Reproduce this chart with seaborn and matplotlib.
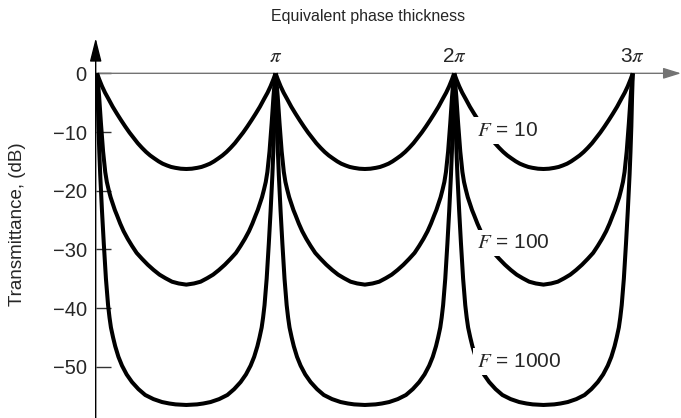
import numpy as np
import pandas as pd
import matplotlib
matplotlib.use("Agg")
import matplotlib.pyplot as plt
import seaborn as sns

# Half of one transmission arch (phase in units of pi, 0 -> pi/2), per finesse value
f10_phase = [0, 0.012, 0.028, 0.045, 0.065, 0.088, 0.112, 0.135, 0.159, 0.182, 0.205,
             0.228, 0.252, 0.275, 0.298, 0.321, 0.345, 0.368, 0.392, 0.415, 0.438,
             0.469, 0.5]
f10_db = [0, -1.0, -2.2, -3.3, -4.4, -5.7, -6.9, -8.0, -9.1, -10.1, -11.0,
          -11.9, -12.7, -13.4, -14.0, -14.5, -15.0, -15.4, -15.7, -15.95, -16.1,
          -16.25, -16.3]

f100_phase = [0, 0.006, 0.012, 0.022, 0.034, 0.046, 0.055, 0.065, 0.076, 0.088, 0.100,
              0.112, 0.130, 0.149, 0.172, 0.196, 0.222, 0.252, 0.284, 0.317, 0.350,
              0.383, 0.420, 0.457, 0.5]
f100_db = [0, -1.8, -4.0, -8.5, -13.3, -16.8, -18.5, -19.8, -21.1, -22.2, -23.3,
           -24.2, -25.6, -26.9, -28.2, -29.4, -30.6, -31.6, -32.6, -33.5, -34.3,
           -34.9, -35.5, -35.8, -36.0]

f1000_phase = [0, 0.002, 0.004, 0.008, 0.013, 0.018, 0.028, 0.038, 0.050, 0.062, 0.070,
               0.078, 0.090, 0.102, 0.120, 0.140, 0.166, 0.196, 0.232, 0.270, 0.316,
               0.364, 0.405, 0.440, 0.470, 0.5]
f1000_db = [0, -2.0, -4.0, -9.0, -13.5, -17.3, -23.5, -29.0, -35.0, -39.5, -41.6,
            -43.3, -45.0, -46.5, -48.3, -49.8, -51.3, -52.6, -53.8, -54.8, -55.5,
            -56.0, -56.25, -56.4, -56.45, -56.5]

finesse_labels = [r"$F$ = 10", r"$F$ = 100", r"$F$ = 1000"]
label_y = [-9.7, -28.9, -49.1]
periods = [0, 1, 2]

x_ticks = [1, 2, 3]
x_tick_labels = [r"$\pi$", r"2$\pi$", r"3$\pi$"]
y_ticks = [0, -10, -20, -30, -40, -50]

sns.set_theme(style="white")
plt.rcParams["font.family"] = ["Liberation Sans", "DejaVu Sans"]
plt.rcParams["mathtext.fontset"] = "stix"

# Build a long table: each arch (one period) is a separate line segment
rows = []
curves = [(f10_phase, f10_db), (f100_phase, f100_db), (f1000_phase, f1000_db)]
for ci, (ph, db) in enumerate(curves):
    ph = np.asarray(ph, float)
    db = np.asarray(db, float)
    arch_x = np.concatenate([ph, 1.0 - ph[::-1][1:]])
    arch_y = np.concatenate([db, db[::-1][1:]])
    for p in periods:
        for xv, yv in zip(arch_x + p, arch_y):
            rows.append({"phase": xv, "dB": yv, "segment": f"{ci}-{p}"})
df = pd.DataFrame(rows)

W, H = 681, 418
fig = plt.figure(figsize=(W / 100, H / 100), dpi=100)
left = 95.7 / W
ax = fig.add_axes([left, 0, 1 - left, 1])

sns.lineplot(data=df, x="phase", y="dB", units="segment", estimator=None,
             sort=False, color="black", lw=2.9, solid_capstyle="butt",
             solid_joinstyle="round", ax=ax, legend=False)

ax.set_xlim(-0.0073, 3.27)
ax.set_ylim(-58.72, 12.49)
for s in ax.spines.values():
    s.set_visible(False)
ax.set_xlabel("")
ax.set_ylabel("")
ax.set_xticks([])
ax.set_yticks(y_ticks)
ax.set_yticklabels([f"{v:d}".replace("-", "\u2212") for v in y_ticks])
ax.tick_params(axis="y", direction="in", length=10.8, width=1.0, color="0.2",
               pad=6.5, labelsize=14.5, left=True)

# Axis lines with arrowheads
ax.annotate("", xy=(3.27, 0), xytext=(-0.0073, 0),
            arrowprops=dict(arrowstyle="-|>,head_length=0.9,head_width=0.28",
                            color="0.45", lw=1.0, shrinkA=0, shrinkB=0), zorder=1)
ax.annotate("", xy=(0, 6.0), xytext=(0, -58.72), xycoords=ax.get_yaxis_transform(),
            textcoords=ax.get_yaxis_transform(),
            arrowprops=dict(arrowstyle="-|>,head_length=1.2,head_width=0.3",
                            color="black", lw=1.0, shrinkA=0, shrinkB=0), zorder=1)

for xv, lab in zip(x_ticks, x_tick_labels):
    ax.text(xv, 2.8, lab, ha="center", va="center", fontsize=15)

for lab, yv in zip(finesse_labels, label_y):
    ax.text(2.128, yv, lab, ha="left", va="center", fontsize=15, zorder=5,
            bbox=dict(boxstyle="square,pad=0.18", facecolor="white", edgecolor="none"))

fig.text(368 / W, 1 - 16 / H, "Equivalent phase thickness", ha="center", va="center",
         fontsize=11.5)
fig.text(18 / W, 1 - 224 / H, "Transmittance, (dB)", ha="center", va="center",
         rotation=90, fontsize=13.5)

fig.savefig("out.png", dpi=100)
